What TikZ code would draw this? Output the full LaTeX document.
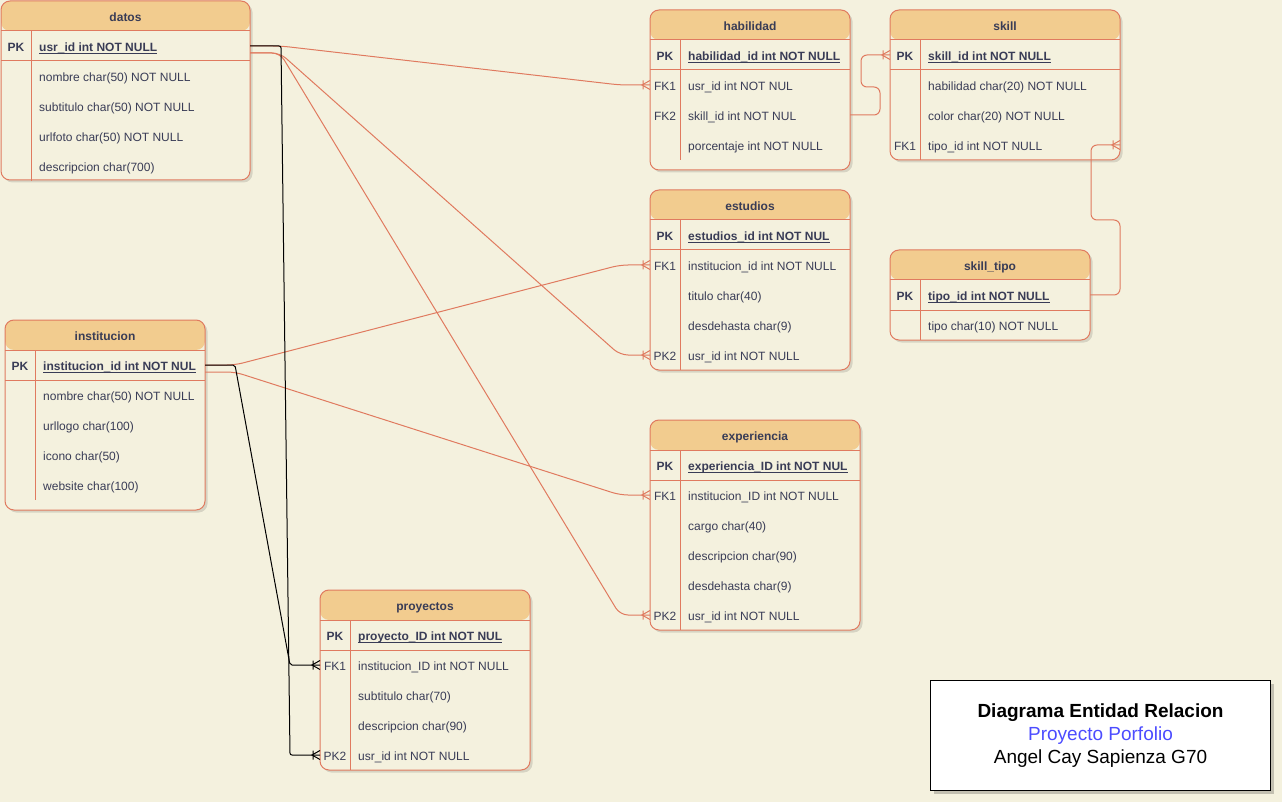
\documentclass[tikz,border=0pt]{standalone}
\usepackage{fontspec}
\setmainfont{Liberation Sans}
\usetikzlibrary{calc,shadows}

\definecolor{erbg}{HTML}{F4F1DE}
\definecolor{erhead}{HTML}{F2CC8F}
\definecolor{erstroke}{HTML}{E07A5F}
\definecolor{ertext}{HTML}{393C56}
\definecolor{titleblue}{HTML}{4C4CFF}

% one-to-many crow's foot end: bar plus three prongs opening toward the entity
\pgfdeclarearrow{
  name = Crow,
  setup code = {
    \pgfarrowssettipend{0pt}
    \pgfarrowssetlineend{0pt}
    \pgfarrowssetbackend{-9pt}
    \pgfarrowssetvisualbackend{-9pt}
    \pgfarrowshullpoint{0pt}{4.5pt}
    \pgfarrowshullpoint{0pt}{-4.5pt}
    \pgfarrowshullpoint{-9pt}{0pt}
  },
  drawing code = {
    \pgfsetdash{}{0pt}
    \pgfpathmoveto{\pgfqpoint{0pt}{4.5pt}}
    \pgfpathlineto{\pgfqpoint{-8pt}{0pt}}
    \pgfpathlineto{\pgfqpoint{0pt}{-4.5pt}}
    \pgfpathmoveto{\pgfqpoint{-7pt}{4.5pt}}
    \pgfpathlineto{\pgfqpoint{-7pt}{-4.5pt}}
    \pgfusepathqstroke
  }
}

\newcommand{\erfont}{\fontsize{12}{14}\selectfont}

\tikzset{
  erframe/.style={draw=erstroke, line width=1pt, fill=erbg, rounded corners=9pt,
    inner sep=0pt, outer sep=0pt,
    drop shadow={shadow xshift=2.5pt, shadow yshift=-2.5pt, opacity=0.12, fill=black},
    path picture={\fill[erhead] (path picture bounding box.north west)
      rectangle ([yshift=-30pt]path picture bounding box.north east);}},
  erline/.style={draw=erstroke, line width=1pt},
  ertitle/.style={inner sep=0pt, text=ertext, font=\erfont\bfseries, text height=11pt, text depth=0pt},
  erkey/.style={inner sep=0pt, text=ertext, font=\erfont, text height=11pt, text depth=0pt},
  erfield/.style={anchor=west, inner sep=0pt, text=ertext, font=\erfont, text height=11pt, text depth=0pt},
  erunder/.style={draw=ertext, line width=0.9pt},
  redcon/.style={draw=erstroke, line width=1pt, rounded corners=8pt, -Crow},
  blackcon/.style={draw=black, line width=1pt, rounded corners=2pt, -Crow},
  titlebox/.style={draw=black, line width=1pt, fill=white, inner sep=0pt,
    drop shadow={shadow xshift=3pt, shadow yshift=-3pt, opacity=0.2, fill=black},
    align=center, font=\fontsize{19}{22.8}\selectfont}
}

% #1 name, #2 x, #3 y, #4 width, #5 height, #6 title, #7 number of rows,
% #8 primary key field, #9 remaining key/field rows
\newcommand{\ertable}[9]{%
  \node[erframe, minimum width=#4pt, minimum height=#5pt, anchor=north west] (#1) at (#2,#3) {};
  \node[ertitle] (#1-h) at ([yshift=-15pt]#1.north) {#6};
  \draw[erline] ([yshift=-30pt]#1.north west) -- ([yshift=-30pt]#1.north east);
  \draw[erline] ([yshift=-60pt]#1.north west) -- ([yshift=-60pt]#1.north east);
  \draw[erline] ([xshift=30pt,yshift=-30pt]#1.north west) -- ([xshift=30pt,yshift=-30pt-30pt*#7]#1.north west);
  \node[erkey, font=\erfont\bfseries] (#1-k0) at ([xshift=15pt,yshift=-45pt]#1.north west) {PK};
  \node[erfield, font=\erfont\bfseries] (#1-0) at ([xshift=38pt,yshift=-45pt]#1.north west) {#8};
  \draw[erunder] ([yshift=-1.5pt]#1-0.base west) -- ([yshift=-1.5pt]#1-0.base east);
  \foreach \k/\t [count=\i] in {#9} {
    \node[erkey] (#1-k\i) at ([xshift=15pt,yshift=-45pt-30pt*\i]#1.north west) {\k};
    \node[erfield] (#1-\i) at ([xshift=38pt,yshift=-45pt-30pt*\i]#1.north west) {\t};
  }
}

\begin{document}
\begin{tikzpicture}[x=1pt, y=-1pt]
  \fill[erbg] (0,0) rectangle (1282,802);
  \useasboundingbox (0,0) rectangle (1282,802);

  % tables
  \ertable{datos}{1}{1}{249}{179}{datos}{5}{usr\_id int NOT NULL}%
    {/nombre char(50) NOT NULL, /subtitulo char(50) NOT NULL, /urlfoto char(50) NOT NULL, /descripcion char(700)}
  \ertable{habilidad}{650}{10}{200}{160}{habilidad}{4}{habilidad\_id int NOT NULL}%
    {FK1/usr\_id int NOT NUL, FK2/skill\_id int NOT NUL, /porcentaje int NOT NULL}
  \ertable{skill}{890}{10}{230}{150}{skill}{4}{skill\_id int NOT NULL}%
    {/habilidad char(20) NOT NULL, /color char(20) NOT NULL, FK1/tipo\_id int NOT NULL}
  \ertable{estudios}{650}{190}{200}{180}{estudios}{5}{estudios\_id int NOT NUL}%
    {FK1/institucion\_id int NOT NULL, /titulo char(40), /desdehasta char(9), PK2/usr\_id int NOT NULL}
  \ertable{skilltipo}{890}{250}{200}{90}{skill\_tipo}{2}{tipo\_id int NOT NULL}%
    {/tipo char(10) NOT NULL}
  \ertable{institucion}{5}{320}{200}{190}{institucion}{5}{institucion\_id int NOT NUL}%
    {/nombre char(50) NOT NULL, /urllogo char(100), /icono char(50), /website char(100)}
  \ertable{experiencia}{650}{420}{210}{210}{experiencia}{6}{experiencia\_ID int NOT NUL}%
    {FK1/institucion\_ID int NOT NULL, /cargo char(40), /descripcion char(90), /desdehasta char(9), PK2/usr\_id int NOT NULL}
  \ertable{proyectos}{320}{590}{210}{180}{proyectos}{5}{proyecto\_ID int NOT NUL}%
    {FK1/institucion\_ID int NOT NULL, /subtitulo char(70), /descripcion char(90), PK2/usr\_id int NOT NULL}

  % relations from datos
  \draw[redcon] (datos.east |- datos-0) -- ++(31,0)
    -- ($(habilidad.west |- habilidad-1)+(-30,0)$) -- (habilidad.west |- habilidad-1);
  \draw[redcon] ($(datos.east |- datos-0)+(0,7)$) -- ++(30,0)
    -- ($(estudios.west |- estudios-4)+(-30,0)$) -- (estudios.west |- estudios-4);
  \draw[redcon] ($(datos.east |- datos-0)+(0,7)$) -- ++(30,0)
    -- ($(experiencia.west |- experiencia-5)+(-30,0)$) -- (experiencia.west |- experiencia-5);

  % relations from institucion
  \draw[redcon] (institucion.east |- institucion-0) -- ++(30,0)
    -- ($(estudios.west |- estudios-1)+(-30,0)$) -- (estudios.west |- estudios-1);
  \draw[redcon] ($(institucion.east |- institucion-0)+(0,7)$) -- ++(30,0)
    -- ($(experiencia.west |- experiencia-1)+(-30,0)$) -- (experiencia.west |- experiencia-1);

  % relations into proyectos
  \draw[blackcon] (institucion.east |- institucion-0) -- ++(30,0)
    -- ($(proyectos.west |- proyectos-1)+(-30,0)$) -- (proyectos.west |- proyectos-1);
  \draw[blackcon] (datos.east |- datos-0) -- ++(31,0)
    -- ($(proyectos.west |- proyectos-4)+(-30,0)$) -- (proyectos.west |- proyectos-4);

  % habilidad -> skill
  \draw[redcon, rounded corners=6pt] (habilidad.east |- habilidad-2) -- ++(30,0) -- ++(0,-28) -- ++(-19,0)
    -- ($(skill.west |- skill-0)+(-29,0)$) -- (skill.west |- skill-0);
  % skill_tipo -> skill
  \draw[redcon, rounded corners=6pt] (skilltipo.east |- skilltipo-0) -- ++(30,0) -- ++(0,-75) -- ++(-29,0)
    -- ($(skill.east |- skill-3)+(-29,0)$) -- (skill.east |- skill-3);

  % title block
  \node[titlebox, minimum width=340pt, minimum height=110pt, anchor=north west] (title) at (930,680)
    {{\bfseries Diagrama Entidad Relacion}\\
     {\color{titleblue}Proyecto Porfolio}\\
     Angel Cay Sapienza G70};
\end{tikzpicture}
\end{document}
